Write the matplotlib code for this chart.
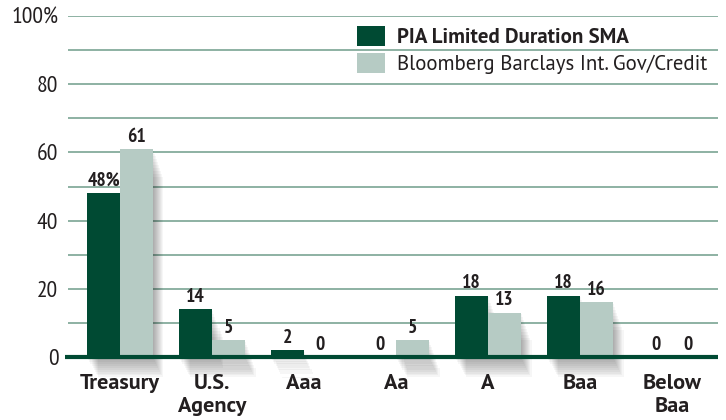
import matplotlib
matplotlib.use("Agg")
import matplotlib.pyplot as plt
import numpy as np
from matplotlib.patches import Rectangle

categories = ["Treasury", "U.S.\nAgency", "Aaa", "Aa", "A", "Baa", "Below\nBaa"]
pia = [48, 14, 2, 0, 18, 18, 0]
bench = [61, 5, 0, 5, 13, 16, 0]
pia_labels = ["48%", "14", "2", "0", "18", "18", "0"]
bench_labels = ["61", "5", "0", "5", "13", "16", "0"]
series_names = ["PIA Limited Duration SMA", "Bloomberg Barclays Int. Gov/Credit"]
yticks = [0, 20, 40, 60, 80, 100]
yticklabels = ["0", "20", "40", "60", "80", "100%"]

DARK = "#004a33"
LIGHT = "#b6cbc4"
GRID = "#7aa493"
TXT = "#231f20"

NARROW = ['PT Sans Narrow', 'DejaVu Sans']
REG = ['PT Sans', 'DejaVu Sans']
plt.rcParams['font.family'] = NARROW

fig = plt.figure(figsize=(7.26, 4.2), dpi=100)
ax = fig.add_axes([68/726, 63/420, 650/726, 341/420])
ax.set_xlim(-0.565, 6.5)
ax.set_ylim(0, 100)

x = np.arange(len(categories))
w = 0.355

# gridlines
for g in range(10, 101, 10):
    ax.axhline(g, color=GRID, lw=1.2, zorder=0)

# shadows
for xs, vals in ((x - w/2, pia), (x + w/2, bench)):
    for xi, v in zip(xs, vals):
        if v <= 0:
            continue
        for k in range(10):
            off = 0.01 + k * 0.012
            ax.add_patch(Rectangle((xi - w/2 + off, -1.0 - k*0.55), w, v + 0.5 - k*0.3,
                                   facecolor="black", alpha=0.035, lw=0, zorder=1,
                                   clip_on=False))

ax.bar(x - w/2, pia, w, color=DARK, zorder=3, label=series_names[0])
ax.bar(x + w/2, bench, w, color=LIGHT, zorder=3, label=series_names[1])

for xi, v, lab in zip(x - w/2, pia, pia_labels):
    ax.text(xi, v + 1.0, lab, ha="center", va="bottom", fontsize=14,
            fontweight="bold", color=TXT, zorder=5)
for xi, v, lab in zip(x + w/2, bench, bench_labels):
    ax.text(xi, v + 1.0, lab, ha="center", va="bottom", fontsize=14,
            fontweight="bold", color=TXT, zorder=5)

# baseline
ax.plot([-0.6, 6.5], [0, 0], color=DARK, lw=3, zorder=4, clip_on=False,
        solid_capstyle="butt")

for s in ax.spines.values():
    s.set_visible(False)
ax.set_yticks(yticks)
ax.set_yticklabels(yticklabels, fontsize=17, color=TXT)
ax.tick_params(axis="y", length=0, pad=7)
ax.set_xticks(x)
ax.set_xticklabels(categories, fontsize=16, fontweight="bold", color=TXT,
                   linespacing=1.3, va="top", family=REG)
ax.tick_params(axis="x", length=0, pad=12)

leg = ax.legend(loc="upper right", bbox_to_anchor=(1.0, 1.0), frameon=False,
                prop={'family': REG, 'size': 15}, handlelength=1.35, handleheight=1.05,
                handletextpad=0.6, labelspacing=0.3, borderaxespad=0.1)
for t in leg.get_texts():
    t.set_color(TXT)
leg.get_texts()[0].set_fontweight("bold")

fig.savefig("out.png", dpi=100)
